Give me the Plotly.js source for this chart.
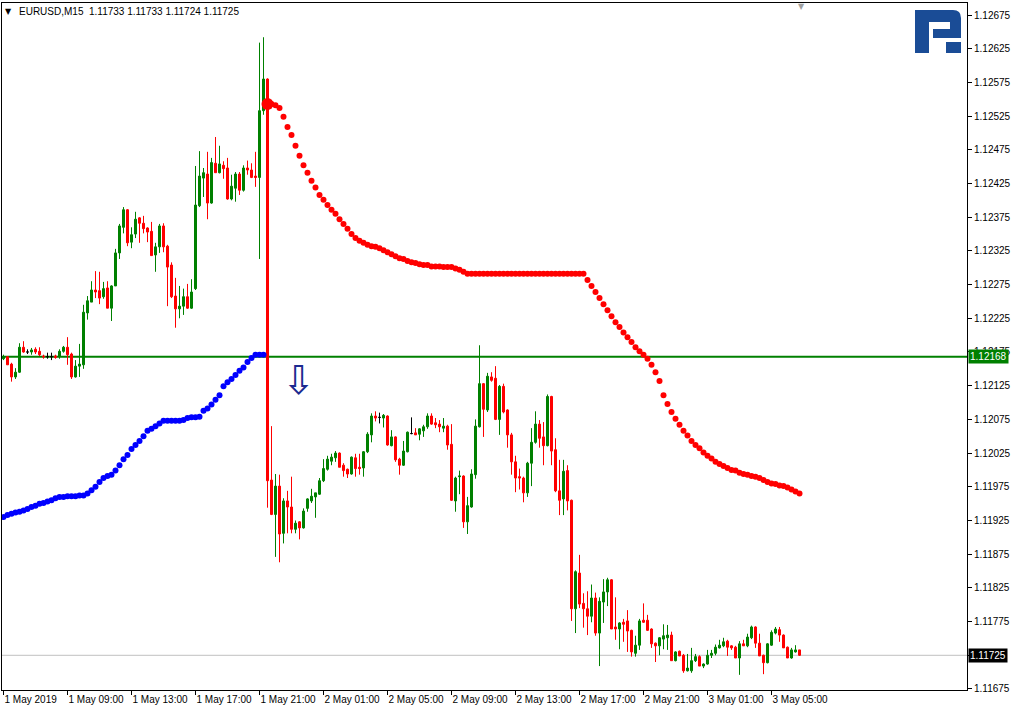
<!DOCTYPE html>
<html><head><meta charset="utf-8">
<script src="https://cdn.plot.ly/plotly-3.0.1.min.js"></script>
<style>html,body{margin:0;padding:0;background:#fff}#chart{width:1012px;height:709px}</style>
</head><body><div id="chart"></div>
<script>
// EURUSD M15, 1 May 2019 05:00 onwards (one bar per 15 minutes)
const openP = [
1.12165,1.12168,1.12157,1.12138,1.12145,1.12182,1.12175,1.12175,1.12179,1.12176,
1.12169,1.12168,1.12168,1.12169,1.12169,1.12176,1.12182,1.12172,1.12138,1.12154,
1.12156,1.12233,1.12249,1.12267,1.12266,1.12257,1.12270,1.12240,1.12273,1.12322,
1.12360,1.12386,1.12338,1.12350,1.12374,1.12366,1.12359,1.12354,1.12319,1.12331,
1.12362,1.12332,1.12304,1.12258,1.12239,1.12243,1.12257,1.12240,1.12269,1.12392,
1.12433,1.12439,1.12396,1.12455,1.12441,1.12452,1.12448,1.12402,1.12418,1.12439,
1.12415,1.12448,1.12445,1.12436,1.12434,1.12533,1.12580,1.11985,1.11934,1.11976,
1.11906,1.11954,1.11945,1.11912,1.11923,1.11914,1.11943,1.11954,1.11960,1.11964,
1.11984,1.12001,1.12013,1.12018,1.12025,1.12007,1.12001,1.11994,1.12018,1.12004,
1.12003,1.12027,1.12052,1.12080,1.12078,1.12077,1.12080,1.12036,1.12049,1.12016,
1.12007,1.12027,1.12054,1.12055,1.12053,1.12058,1.12064,1.12080,1.12070,1.12068,
1.12062,1.12065,1.12038,1.11954,1.11990,1.11991,1.11923,1.11945,1.11993,1.12064,
1.12128,1.12089,1.12138,1.12136,1.12075,1.12124,1.12089,1.12052,1.12012,1.11990,
1.11988,1.11966,1.12010,1.12041,1.12068,1.12049,1.12036,1.12109,1.12030,1.11969,
1.11957,1.11999,1.11955,1.11794,1.11847,1.11802,1.11794,1.11783,1.11810,1.11758,
1.11804,1.11819,1.11837,1.11767,1.11764,1.11774,1.11776,1.11762,1.11728,1.11740,
1.11777,1.11777,1.11764,1.11743,1.11739,1.11749,1.11751,1.11755,1.11717,1.11731,
1.11725,1.11702,1.11702,1.11717,1.11723,1.11709,1.11712,1.11725,1.11728,1.11736,
1.11739,1.11746,1.11739,1.11737,1.11721,1.11742,1.11739,1.11751,1.11767,1.11743,
1.11725,1.11714,1.11740,1.11758,1.11763,1.11755,1.11737,1.11721,1.11730,1.11733];
const highP = [
1.12171,1.12169,1.12159,1.12151,1.12188,1.12191,1.12179,1.12181,1.12182,1.12182,
1.12171,1.12174,1.12174,1.12171,1.12179,1.12184,1.12197,1.12174,1.12163,1.12187,
1.12245,1.12258,1.12280,1.12295,1.12294,1.12279,1.12280,1.12274,1.12328,1.12365,
1.12390,1.12387,1.12360,1.12383,1.12375,1.12377,1.12360,1.12368,1.12337,1.12365,
1.12366,1.12334,1.12308,1.12285,1.12273,1.12269,1.12276,1.12283,1.12451,1.12473,
1.12448,1.12472,1.12463,1.12494,1.12481,1.12458,1.12463,1.12438,1.12442,1.12442,
1.12452,1.12459,1.12455,1.12472,1.12634,1.12642,1.12581,1.12065,1.11994,1.11993,
1.11958,1.11969,1.11990,1.11925,1.11924,1.11943,1.11958,1.11972,1.11966,1.11988,
1.12016,1.12021,1.12024,1.12028,1.12026,1.12010,1.12002,1.12020,1.12024,1.12024,
1.12028,1.12056,1.12084,1.12087,1.12085,1.12083,1.12081,1.12059,1.12050,1.12018,
1.12043,1.12057,1.12078,1.12062,1.12062,1.12067,1.12084,1.12084,1.12077,1.12074,
1.12077,1.12067,1.12068,1.11990,1.11999,1.11992,1.11960,1.12001,1.12075,1.12185,
1.12129,1.12144,1.12145,1.12154,1.12126,1.12128,1.12090,1.12055,1.12021,1.12002,
1.11990,1.12012,1.12062,1.12087,1.12074,1.12071,1.12112,1.12110,1.12047,1.12015,
1.12015,1.12007,1.11956,1.11851,1.11874,1.11817,1.11820,1.11830,1.11818,1.11811,
1.11838,1.11840,1.11838,1.11811,1.11774,1.11779,1.11792,1.11763,1.11754,1.11779,
1.11802,1.11785,1.11765,1.11744,1.11752,1.11771,1.11770,1.11760,1.11731,1.11732,
1.11727,1.11727,1.11736,1.11727,1.11725,1.11713,1.11733,1.11733,1.11741,1.11748,
1.11751,1.11748,1.11740,1.11739,1.11746,1.11748,1.11757,1.11769,1.11768,1.11757,
1.11726,1.11743,1.11762,1.11767,1.11767,1.11756,1.11738,1.11736,1.11740,1.11733];
const lowP = [
1.12163,1.12156,1.12131,1.12135,1.12144,1.12174,1.12172,1.12171,1.12172,1.12169,
1.12165,1.12165,1.12163,1.12165,1.12165,1.12174,1.12156,1.12135,1.12137,1.12138,
1.12150,1.12223,1.12249,1.12255,1.12246,1.12254,1.12240,1.12221,1.12273,1.12313,
1.12351,1.12332,1.12329,1.12344,1.12337,1.12351,1.12338,1.12318,1.12294,1.12322,
1.12323,1.12243,1.12255,1.12211,1.12225,1.12230,1.12239,1.12239,1.12267,1.12390,
1.12405,1.12372,1.12395,1.12441,1.12440,1.12432,1.12401,1.12400,1.12398,1.12408,
1.12413,1.12438,1.12433,1.12420,1.12313,1.12527,1.11944,1.11933,1.11871,1.11863,
1.11891,1.11906,1.11906,1.11906,1.11897,1.11913,1.11938,1.11951,1.11929,1.11963,
1.11982,1.11999,1.12007,1.12012,1.12004,1.11990,1.11988,1.11993,1.11990,1.11993,
1.11990,1.12025,1.12041,1.12072,1.12069,1.12063,1.12036,1.12035,1.12012,1.11993,
1.12006,1.12026,1.12053,1.12052,1.12044,1.12049,1.12061,1.12067,1.12062,1.12056,
1.12056,1.12030,1.11954,1.11938,1.11964,1.11914,1.11905,1.11944,1.11987,1.12063,
1.12049,1.12086,1.12131,1.12074,1.12052,1.12084,1.12033,1.11993,1.11967,1.11971,
1.11952,1.11960,1.11976,1.12039,1.12033,1.12007,1.12035,1.12007,1.11967,1.11933,
1.11933,1.11940,1.11776,1.11758,1.11795,1.11766,1.11755,1.11774,1.11754,1.11709,
1.11773,1.11798,1.11764,1.11748,1.11734,1.11745,1.11730,1.11723,1.11723,1.11733,
1.11773,1.11761,1.11736,1.11715,1.11725,1.11734,1.11733,1.11717,1.11716,1.11724,
1.11699,1.11701,1.11699,1.11715,1.11709,1.11706,1.11711,1.11721,1.11725,1.11735,
1.11737,1.11724,1.11733,1.11721,1.11696,1.11739,1.11737,1.11749,1.11736,1.11724,
1.11697,1.11713,1.11739,1.11756,1.11745,1.11736,1.11721,1.11720,1.11729,1.11724];
const closeP = [
1.12168,1.12156,1.12138,1.12145,1.12182,1.12175,1.12175,1.12178,1.12175,1.12171,
1.12168,1.12168,1.12168,1.12167,1.12176,1.12182,1.12171,1.12138,1.12154,1.12157,
1.12234,1.12251,1.12267,1.12264,1.12255,1.12269,1.12240,1.12273,1.12322,1.12362,
1.12386,1.12337,1.12349,1.12372,1.12366,1.12358,1.12353,1.12318,1.12331,1.12362,
1.12331,1.12301,1.12257,1.12239,1.12243,1.12257,1.12240,1.12264,1.12393,1.12436,
1.12441,1.12396,1.12456,1.12441,1.12454,1.12447,1.12402,1.12421,1.12439,1.12415,
1.12448,1.12445,1.12434,1.12434,1.12533,1.12580,1.11984,1.11934,1.11976,1.11905,
1.11954,1.11945,1.11912,1.11921,1.11914,1.11939,1.11957,1.11961,1.11966,1.11984,
1.12002,1.12016,1.12019,1.12025,1.12004,1.11999,1.11994,1.12019,1.12002,1.12002,
1.12027,1.12053,1.12080,1.12077,1.12078,1.12081,1.12037,1.12049,1.12015,1.12007,
1.12028,1.12056,1.12054,1.12052,1.12061,1.12064,1.12080,1.12068,1.12067,1.12064,
1.12065,1.12037,1.11955,1.11988,1.11991,1.11923,1.11947,1.11994,1.12065,1.12128,
1.12090,1.12139,1.12133,1.12075,1.12124,1.12086,1.12052,1.12012,1.11988,1.11988,
1.11966,1.12010,1.12041,1.12068,1.12047,1.12036,1.12109,1.12028,1.11969,1.11955,
1.11998,1.11954,1.11794,1.11849,1.11801,1.11794,1.11783,1.11810,1.11758,1.11805,
1.11819,1.11837,1.11764,1.11764,1.11773,1.11771,1.11761,1.11730,1.11740,1.11776,
1.11774,1.11762,1.11742,1.11739,1.11751,1.11754,1.11755,1.11717,1.11730,1.11724,
1.11702,1.11706,1.11717,1.11723,1.11709,1.11712,1.11725,1.11728,1.11737,1.11740,
1.11745,1.11737,1.11736,1.11721,1.11742,1.11739,1.11752,1.11767,1.11743,1.11724,
1.11714,1.11742,1.11759,1.11764,1.11755,1.11736,1.11721,1.11733,1.11733,1.11725];

// Parabolic SAR: below price (bars 0..65), above price (bars 66..199)
const sarBlue = [
1.11930,1.11933,1.11935,1.11937,1.11938,1.11940,1.11942,1.11945,1.11947,1.11950,
1.11951,1.11953,1.11955,1.11958,1.11960,1.11960,1.11961,1.11961,1.11961,1.11962,
1.11962,1.11965,1.11970,1.11975,1.11982,1.11988,1.11991,1.11993,1.11999,1.12007,
1.12016,1.12022,1.12031,1.12037,1.12043,1.12050,1.12058,1.12061,1.12065,1.12069,
1.12073,1.12073,1.12073,1.12073,1.12073,1.12074,1.12077,1.12078,1.12078,1.12079,
1.12088,1.12091,1.12097,1.12104,1.12111,1.12124,1.12130,1.12135,1.12141,1.12147,
1.12152,1.12160,1.12166,1.12171,1.12171,1.12171];
const sarRedStart = 66;
const sarRed = [
1.12543,1.12543,1.12541,1.12537,1.12524,1.12509,1.12497,1.12481,1.12466,1.12452,
1.12441,1.12429,1.12419,1.12408,1.12401,1.12393,1.12386,1.12380,1.12372,1.12365,
1.12358,1.12350,1.12344,1.12340,1.12337,1.12334,1.12332,1.12331,1.12329,1.12326,
1.12323,1.12320,1.12317,1.12314,1.12313,1.12310,1.12308,1.12307,1.12305,1.12304,
1.12304,1.12302,1.12302,1.12302,1.12301,1.12301,1.12301,1.12299,1.12297,1.12294,
1.12291,1.12291,1.12291,1.12291,1.12291,1.12291,1.12291,1.12291,1.12291,1.12291,
1.12291,1.12291,1.12291,1.12291,1.12291,1.12291,1.12291,1.12291,1.12291,1.12291,
1.12291,1.12291,1.12291,1.12291,1.12291,1.12291,1.12291,1.12291,1.12291,1.12291,
1.12282,1.12273,1.12264,1.12255,1.12246,1.12237,1.12228,1.12219,1.12212,1.12204,
1.12197,1.12190,1.12182,1.12176,1.12171,1.12165,1.12156,1.12145,1.12132,1.12111,
1.12098,1.12086,1.12076,1.12067,1.12058,1.12051,1.12043,1.12037,1.12032,1.12026,
1.12021,1.12017,1.12012,1.12009,1.12006,1.12003,1.12000,1.11999,1.11996,1.11994,
1.11993,1.11991,1.11990,1.11988,1.11985,1.11982,1.11980,1.11979,1.11977,1.11976,
1.11974,1.11971,1.11968,1.11965];

const tickIdx = [0,16,32,48,64,80,96,112,128,144,160,176,192];
const tickLabels = ['1 May 2019','1 May 09:00','1 May 13:00','1 May 17:00','1 May 21:00',
  '2 May 01:00','2 May 05:00','2 May 09:00','2 May 13:00','2 May 17:00','2 May 21:00',
  '3 May 01:00','3 May 05:00'];
const yTicks = [1.11675,1.11725,1.11775,1.11825,1.11875,1.11925,1.11975,1.12025,1.12075,
  1.12125,1.12175,1.12225,1.12275,1.12325,1.12375,1.12425,1.12475,1.12525,1.12575,1.12625,1.12675];
const levelLine = 1.12168;
const bidLine = 1.11725;
const arrowBar = 73.75, arrowPrice = 1.12134;

const n = openP.length;
const idx = openP.map((_, i) => i);
const upIdx = idx.filter(i => closeP[i] > openP[i]);
const dnIdx = idx.filter(i => closeP[i] < openP[i]);
const dojiIdx = idx.filter(i => closeP[i] === openP[i]);

function candles(ids, color) {
  return {
    type: 'candlestick', x: ids,
    open: ids.map(i => openP[i]), high: ids.map(i => highP[i]),
    low: ids.map(i => lowP[i]), close: ids.map(i => closeP[i]),
    increasing: {line: {color: color, width: 1}, fillcolor: color},
    decreasing: {line: {color: color, width: 1}, fillcolor: color},
    whiskerwidth: 0, hoverinfo: 'skip', showlegend: false
  };
}

const data = [
  candles(upIdx, '#008000'),
  candles(dnIdx, '#ff0000'),
  candles(dojiIdx, '#000000'),
  {type: 'scatter', mode: 'markers', x: sarBlue.map((_, k) => k), y: sarBlue,
   marker: {color: '#0000ff', size: 6}, hoverinfo: 'skip', showlegend: false},
  {type: 'scatter', mode: 'markers', x: sarRed.map((_, k) => k + sarRedStart), y: sarRed,
   marker: {color: '#ff0000', size: 6}, hoverinfo: 'skip', showlegend: false},
  {type: 'scatter', mode: 'markers', x: [sarRedStart], y: [sarRed[0]],
   marker: {color: '#ff0000', size: 12}, hoverinfo: 'skip', showlegend: false}
];

// decoration helpers (pixel -> paper), for the logo only
const L = 2, R = 967, T = 3, B = 690;
const px = X => ((X - L) / (R - L)).toFixed(5);
const py = Y => ((B - Y) / (B - T)).toFixed(5);
const P = (X, Y) => px(X) + ',' + py(Y);
const logo1 = `M${P(915,10)} L${P(953,10)} Q${P(961,10)} ${P(961,18)} L${P(961,38)} L${P(933,38)} L${P(933,29)} L${P(950,29)} L${P(950,22)} L${P(929,22)} L${P(929,53)} L${P(915,53)} Z`;
const logo2 = `M${P(946,42)} L${P(961,42)} L${P(961,53)} L${P(946,53)} Z`;

const FONT = 'Liberation Sans, Arial, sans-serif';
const last = n - 1;
const titleText = 'EURUSD,M15\u00a0\u00a0' + [openP[last], highP[last], lowP[last], closeP[last]].map(v => v.toFixed(5)).join(' ');

const layout = {
  width: 1012, height: 709,
  margin: {l: L, r: 1012 - R, t: T, b: 709 - B, pad: 0},
  paper_bgcolor: '#ffffff', plot_bgcolor: '#ffffff',
  showlegend: false, hovermode: false, dragmode: false,
  boxgap: 0.375, boxgroupgap: 0.2,
  font: {family: FONT, size: 10, color: '#000'},
  xaxis: {
    range: [-0.375, 240.875], showgrid: false, zeroline: false,
    showline: true, mirror: true, linecolor: '#000', linewidth: 1,
    ticks: 'outside', ticklen: 4, tickcolor: '#000', tickwidth: 1,
    tickmode: 'array', tickvals: tickIdx, ticktext: tickLabels,
    ticklabelposition: 'outside right', tickangle: 0,
    tickfont: {family: FONT, size: 10, color: '#000'},
    rangeslider: {visible: false}, fixedrange: true
  },
  yaxis: {
    side: 'right', range: [1.116735, 1.126928], showgrid: false, zeroline: false,
    showline: true, mirror: true, linecolor: '#000', linewidth: 1,
    ticks: 'outside', ticklen: 4, tickcolor: '#000', tickwidth: 1,
    tickmode: 'array', tickvals: yTicks,
    ticktext: yTicks.map(v => (Math.abs(v - bidLine) < 1e-9 ? '' : v.toFixed(5))),
    tickfont: {family: FONT, size: 10, color: '#000'}, fixedrange: true
  },
  shapes: [
    {type: 'line', xref: 'paper', x0: 0, x1: 1, yref: 'y', y0: levelLine, y1: levelLine,
     line: {color: '#008000', width: 2}, layer: 'below'},
    {type: 'line', xref: 'paper', x0: 0, x1: 1, yref: 'y', y0: bidLine, y1: bidLine,
     line: {color: '#c0c0c0', width: 1}, layer: 'below'},
    {type: 'path', xref: 'paper', yref: 'paper', path: logo1, fillcolor: '#1a4c96', line: {width: 0}},
    {type: 'path', xref: 'paper', yref: 'paper', path: logo2, fillcolor: '#1a4c96', line: {width: 0}}
  ],
  annotations: [
    {xref: 'paper', yref: 'paper', x: px(17), y: 1, xanchor: 'left', yanchor: 'top', yshift: -1,
     text: titleText, showarrow: false, font: {family: FONT, size: 10, color: '#000'}},
    {xref: 'paper', yref: 'paper', x: px(9), y: 1, xanchor: 'center', yanchor: 'top', yshift: -2,
     text: '\u25BC', showarrow: false, font: {family: 'DejaVu Sans', size: 8, color: '#000'}},
    {xref: 'paper', yref: 'paper', x: px(801), y: 1, xanchor: 'center', yanchor: 'top', yshift: 3,
     text: '\u25BC', showarrow: false, font: {family: 'DejaVu Sans', size: 8, color: '#a0a0a0'}},
    {xref: 'paper', yref: 'y', x: 1, y: levelLine, xanchor: 'left', yanchor: 'middle', xshift: 1,
     text: levelLine.toFixed(5), showarrow: false, bgcolor: '#008000', borderpad: 1,
     font: {family: FONT, size: 10, color: '#ffffff'}},
    {xref: 'paper', yref: 'y', x: 1, y: bidLine, xanchor: 'left', yanchor: 'middle', xshift: 1,
     text: bidLine.toFixed(5), showarrow: false, bgcolor: '#000000', borderpad: 1,
     font: {family: FONT, size: 10, color: '#ffffff'}},
    {xref: 'x', yref: 'y', x: arrowBar, y: arrowPrice, xanchor: 'center', yanchor: 'middle',
     text: '\u21E9', showarrow: false, font: {family: 'DejaVu Sans', size: 40, color: '#1c2a90'}}
  ]
};

Plotly.newPlot('chart', data, layout, {staticPlot: true, displayModeBar: false});
</script>
</body></html>
